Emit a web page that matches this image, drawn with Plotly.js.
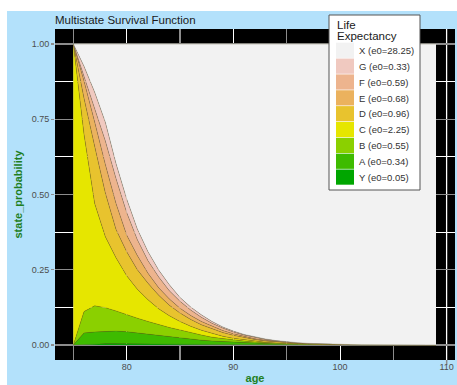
<!DOCTYPE html>
<html><head><meta charset="utf-8">
<script src="https://cdn.plot.ly/plotly-3.0.1.min.js"></script>
<style>
html,body{margin:0;padding:0;background:#ffffff;width:457px;height:385px;overflow:hidden}
#chart{position:absolute;left:7px;top:11px;width:450px;height:374px}
</style>
</head><body><div id="chart"></div>
<script>
const ages = [75,76,77,78,79,80,81,82,83,84,85,86,87,88,89,90,91,92,93,94,95,96,97,98,99,100,101,102,103,104,105,106,107,108,109];
const states = ['Y','A','B','C','D','E','F','G','X'];
const e0 = [0.05,0.34,0.55,2.25,0.96,0.68,0.59,0.33,28.25];
const colors = ['#00A600','#3EBB00','#8BD000','#E6E600','#E8C32E','#EBB25E','#EDB48E','#F0C9C0','#F2F2F2'];

const probY = [0,.002,.003,.004,.004,.004,.004,.004,.0035,.0035,.003,.003,.0025,.002,.002,.0015,.0012,.001,.0008,.0006,.0004,.0003,.0002,.0001,.0001,0,0,0,0,0,0,0,0,0,0];
const probA = [0,.038,.040,.041,.042,.040,.036,.031,.0275,.0225,.019,.016,.0135,.011,.009,.0075,.0058,.0045,.0034,.0026,.002,.0014,.001,.0007,.0004,.0003,.0002,.0001,0,0,0,0,0,0,0];
const probB = [0,.071,.087,.079,.067,.056,.049,.043,.036,.032,.028,.022,.017,.013,.010,.008,.006,.0045,.0033,.0024,.0018,.0013,.0009,.0007,.0005,.0004,.0002,.0001,.0001,0,0,0,0,0,0];
const probC = [1,.589,.340,.236,.177,.130,.096,.072,.053,.039,.028,.021,.016,.012,.008,.005,.004,.0025,.0017,.0012,.0008,.0006,.0005,.0003,.0002,.0001,.0001,.0001,.0001,.0001,0,0,0,0,0];
const probD = [0,.12,.19,.145,.094,.08,.065,.055,.045,.035,.028,.023,.018,.015,.012,.010,.007,.0055,.0043,.0032,.0023,.0017,.0012,.0009,.0007,.0005,.0004,.0003,.0002,.0001,0,0,0,0,0];
const probE = [0,.057,.081,.095,.086,.055,.047,.033,.025,.021,.016,.013,.011,.009,.007,.005,.004,.003,.002,.0015,.0011,.0008,.0006,.0004,.0003,.0002,.0001,.0001,0,0,0,0,0,0,0];
const probF = [0,.018,.049,.078,.083,.075,.053,.042,.036,.027,.023,.018,.014,.010,.008,.006,.005,.004,.003,.002,.0014,.001,.0007,.0005,.0003,.0002,.0001,.0001,.0001,0,0,0,0,0,0];
const probG = [0,.031,.05,.062,.05,.045,.035,.03,.023,.02,.013,.01,.008,.006,.004,.003,.002,.002,.0015,.001,.0007,.0005,.0003,.0002,.0002,.0001,.0001,0,0,0,0,0,0,0,0];
const probX = [0,.074,.16,.26,.397,.515,.615,.69,.751,.8,.842,.874,.9,.922,.94,.954,.965,.973,.98,.9855,.9895,.9924,.9946,.9962,.9973,.9982,.9988,.9992,.9995,.9998,1,1,1,1,1];

const xTicks = [80,90,100,110];
const xMinorTicks = [75,85,95,105];
const yTicks = [0,0.25,0.5,0.75,1];
const yTickLabels = ['0.00','0.25','0.50','0.75','1.00'];
const yMinorTicks = [0.125,0.375,0.625,0.875];
const legendTitle = ['Life','Expectancy'];

const series = [probY,probA,probB,probC,probD,probE,probF,probG,probX];

const FONT = 'Liberation Sans, Arial, Helvetica, sans-serif';
const GRAY = '#8c8c8c';
const GREEN = '#1f7f1f';

const traces = states.map((s,i)=>({
  x: ages, y: series[i], type:'scatter', mode:'lines', stackgroup:'one',
  fillcolor: colors[i], line:{color:'rgba(95,85,40,0.45)', width:0.6},
  name: s + ' (e0=' + e0[i].toFixed(2) + ')', showlegend:false, hoverinfo:'skip'
}));

// image pixel -> paper coordinate helpers (plot area: x 55..455, y 29..360)
const px = v => (v - 55) / 400;
const py = v => (360 - v) / 331;

const shapes = [
  {type:'line', xref:'x', yref:'paper', x0:110, x1:110, y0:py(365), y1:1, line:{color:GRAY, width:1.5}, layer:'between'},
  {type:'rect', xref:'paper', yref:'paper', x0:px(329), x1:px(420), y0:py(190), y1:py(15), fillcolor:'#ffffff', line:{color:'#555555', width:1}, layer:'above'}
];
const annotations = legendTitle.map((t, k) => ({
  xref:'paper', yref:'paper', x:px(335), y:py(25 + 11*k), xanchor:'left', yanchor:'middle', align:'left', showarrow:false,
  text:t, font:{family:FONT, size:11.5, color:'#1a1a1a'}
}));
const order = states.map((s,i)=>i).reverse();
order.forEach((idx, k) => {
  const top = 42.7 + 15.85*k;
  shapes.push({type:'rect', xref:'paper', yref:'paper', x0:px(336), x1:px(354), y0:py(top+15.2), y1:py(top),
    fillcolor:colors[idx], line:{width:0}, layer:'above'});
  annotations.push({xref:'paper', yref:'paper', x:px(356.5), y:py(top+7.8), xanchor:'left', yanchor:'middle', showarrow:false,
    text: states[idx] + ' (e0=' + e0[idx].toFixed(2) + ')', font:{family:FONT, size:9.5, color:'#333333'}});
});

const layout = {
  width:450, height:374,
  margin:{l:48, r:2, t:18, b:25, pad:0},
  paper_bgcolor:'#b3e1fb', plot_bgcolor:'#000000',
  font:{family:FONT},
  title:{text:'Multistate Survival Function', font:{family:FONT, size:11.5, color:'#1a1a1a'},
         x:0, xref:'paper', xanchor:'left', y:1 - 9/374, yref:'container', yanchor:'middle'},
  xaxis:{range:[73.28,110.78], tickmode:'array', tickvals:xTicks, showgrid:true, gridcolor:'#ffffff', gridwidth:1,
         minor:{tickmode:'array', tickvals:xMinorTicks, showgrid:true, gridcolor:GRAY, gridwidth:1.5, ticks:''},
         zeroline:false, showline:false, ticks:'', tickfont:{family:FONT, size:9, color:'#4d4d4d'},
         title:{text:'age', standoff:3, font:{family:FONT, size:11, color:GREEN, weight:'bold'}}, automargin:false},
  yaxis:{range:[-0.05,1.05], tickmode:'array', tickvals:yTicks, ticktext:yTickLabels, showgrid:true, gridcolor:GRAY, gridwidth:1.5,
         minor:{tickmode:'array', tickvals:yMinorTicks, showgrid:true, gridcolor:'#ffffff', gridwidth:1, ticks:''},
         zeroline:false, showline:false, ticks:'outside', ticklen:3, tickwidth:1.5, tickcolor:GRAY,
         tickfont:{family:FONT, size:9, color:'#4d4d4d'},
         title:{text:'state_probability', standoff:6, font:{family:FONT, size:11, color:GREEN, weight:'bold'}}, automargin:false},
  shapes: shapes,
  annotations: annotations,
  showlegend:false
};

Plotly.newPlot('chart', traces, layout, {displayModeBar:false, staticPlot:true});
</script>
</body></html>
